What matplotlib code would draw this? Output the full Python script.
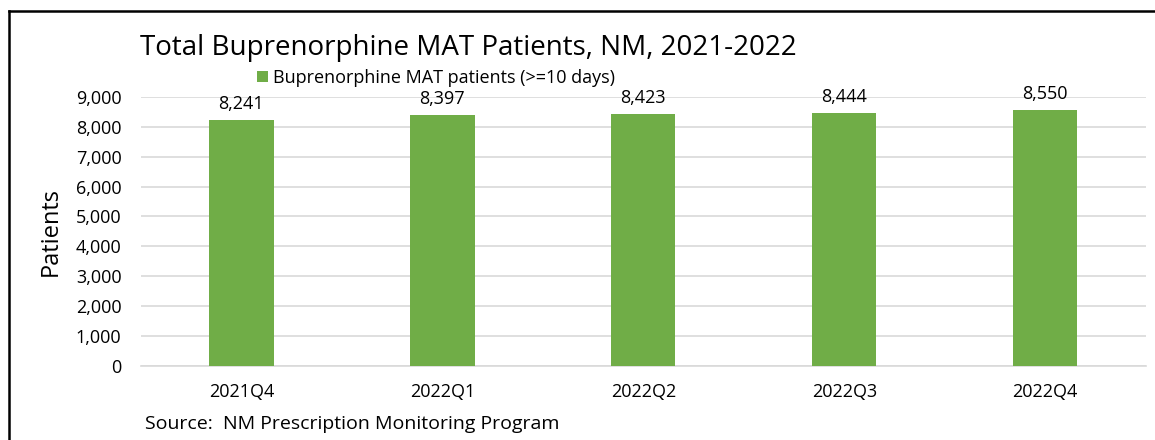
import matplotlib
matplotlib.use("Agg")
import numpy as np
from matplotlib import pyplot as plt
from matplotlib.lines import Line2D

quarters = ["2021Q4", "2022Q1", "2022Q2", "2022Q3", "2022Q4"]
patients = [8241, 8397, 8423, 8444, 8550]
yticks = [0, 1000, 2000, 3000, 4000, 5000, 6000, 7000, 8000, 9000]

plt.rcParams['font.family'] = ['Open Sans', 'DejaVu Sans']

fig = plt.figure(figsize=(11.55, 4.4), dpi=100)
ax = fig.add_axes([0.122, 0.168, 0.870, 0.612])

x = np.arange(len(quarters))
bars = ax.bar(x, patients, width=0.32, color='#70AD47', zorder=3,
              label='Buprenorphine MAT patients (>=10 days)')

for xi, v in zip(x, patients):
    ax.annotate(f"{v:,}", (xi, v), xytext=(0, 5), textcoords='offset points',
                ha='center', va='bottom', fontsize=13)

ax.set_xlim(-0.5, len(quarters) - 0.5)
ax.set_ylim(0, 9000)
ax.set_yticks(yticks)
ax.set_yticklabels([f"{t:,}" for t in yticks], fontsize=13)
ax.set_xticks(x)
ax.set_xticklabels(quarters, fontsize=13)
ax.tick_params(length=0, pad=14)
ax.tick_params(axis='x', pad=12)
ax.yaxis.grid(True, color='#D9D9D9', linewidth=1.2, zorder=0)
ax.set_axisbelow(True)
for s in ['top', 'right', 'left']:
    ax.spines[s].set_visible(False)
ax.spines['bottom'].set_color('#D9D9D9')
ax.spines['bottom'].set_linewidth(1.2)
ax.set_ylabel('Patients', fontsize=17, labelpad=9)

fig.text(140/1155, 1 - 48/440, 'Total Buprenorphine MAT Patients, NM, 2021-2022',
         fontsize=20, ha='left', va='center')
ax.legend(loc='center left', bbox_to_anchor=(248/1155, 1 - 78/440),
          bbox_transform=fig.transFigure, frameon=False, fontsize=13,
          handlelength=0.6, handleheight=0.6, handletextpad=0.3, borderpad=0)
fig.text(145/1155, 1 - 424/440, 'Source:  NM Prescription Monitoring Program',
         fontsize=14, ha='left', va='center')

# outer frame (top and left edges visible)
fig.add_artist(Line2D([9/1155, 1.0], [1 - 11/440, 1 - 11/440],
                      transform=fig.transFigure, color='black', linewidth=1.8))
fig.add_artist(Line2D([9/1155, 9/1155], [0, 1 - 11/440],
                      transform=fig.transFigure, color='black', linewidth=1.8))

fig.savefig('out.png', dpi=100)
